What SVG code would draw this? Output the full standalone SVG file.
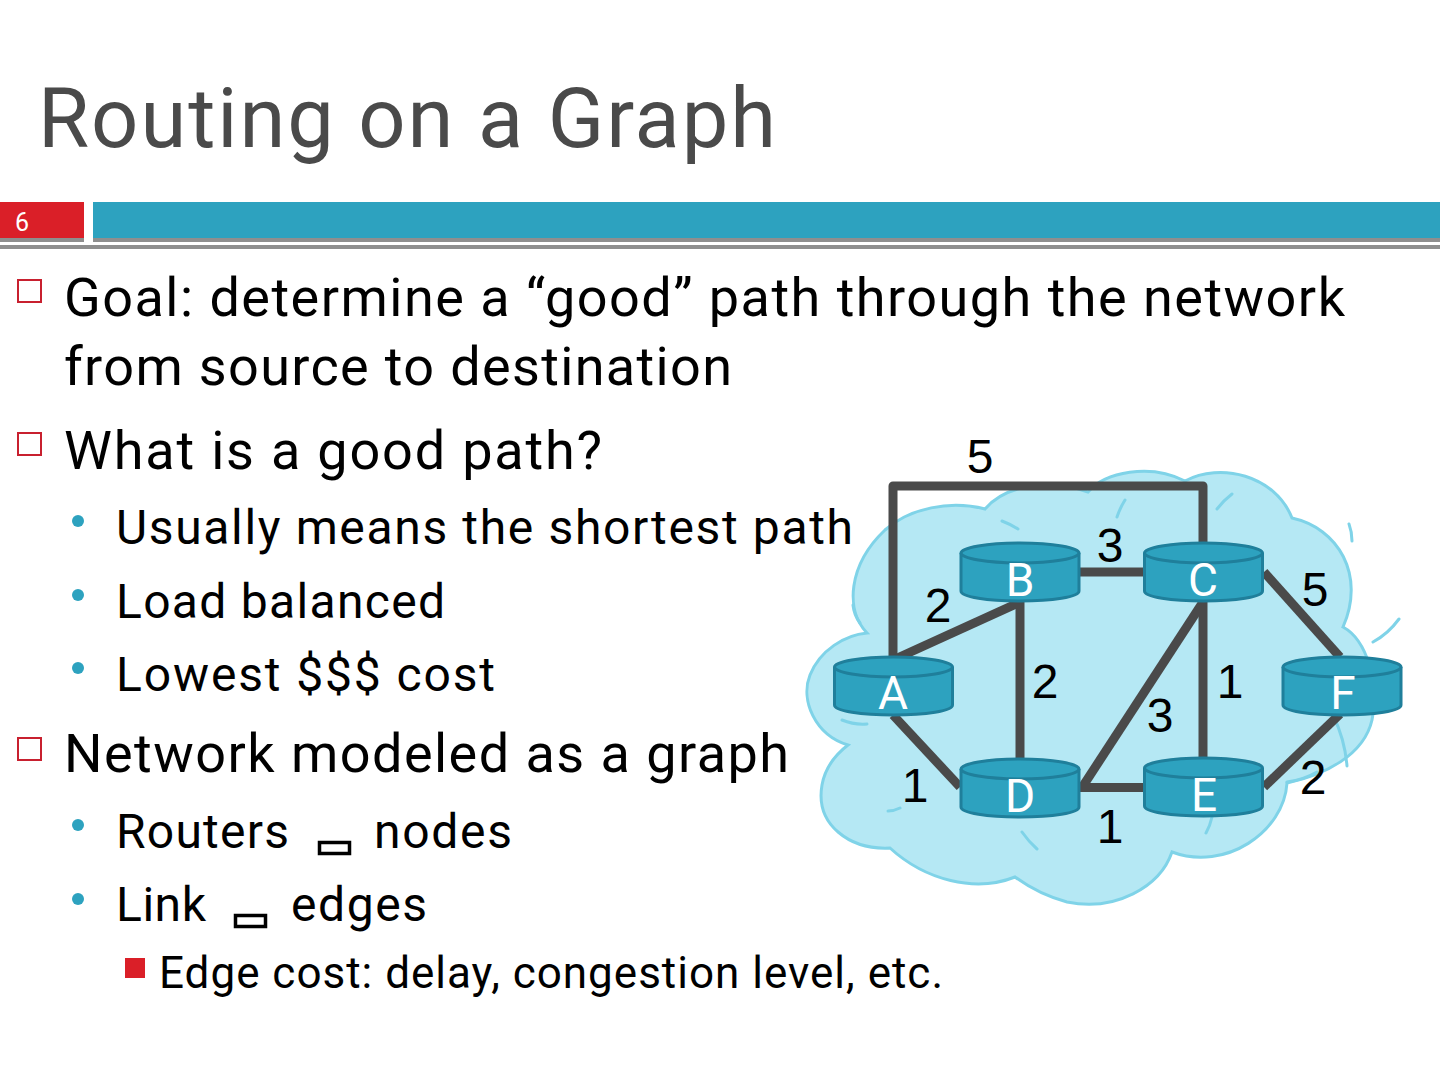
<svg xmlns="http://www.w3.org/2000/svg" width="1440" height="1080" viewBox="0 0 1440 1080">
<defs>
<style>
text{font-family:Roboto,"Liberation Sans",sans-serif;fill:#000}
.title{font-size:83px;fill:#4a4a4a}
.l1{font-size:54px}
.l2{font-size:48px}
.l3{font-size:44px}
.num{font-family:"Liberation Sans",Arial,sans-serif;font-size:48px;text-anchor:middle}
.lab{font-size:46px;fill:#fff;text-anchor:middle}
.edge{fill:none;stroke:#4a4a4a;stroke-width:9;stroke-linejoin:round}
.cyl{fill:#2da2bf;stroke:#1f7f9b;stroke-width:3}
.sq{fill:none;stroke:#c8202f;stroke-width:2}
.cl{fill:none;stroke:#7fd3e8;stroke-width:3;stroke-linecap:round}
.tofu{fill:none;stroke:#000;stroke-width:3.500}
.dot{fill:#2da2bf}
</style>
<g id="router">
<path class="cyl" d="M-59 -19V19C-59 25 -32 29 0 29S59 25 59 19V-19"/>
<ellipse class="cyl" cx="0" cy="-19" rx="59" ry="10"/>
</g>
</defs>
<rect width="1440" height="1080" fill="#fff"/>
<g id="header">
<rect x="0" y="202" width="84" height="36" fill="#da1f28"/>
<rect x="93" y="202" width="1347" height="36" fill="#2da2bf"/>
<rect x="0" y="238" width="84" height="4" fill="#8e8e8e"/>
<rect x="93" y="238" width="1347" height="4" fill="#8e8e8e"/>
<rect x="0" y="245" width="1440" height="4" fill="#8e8e8e"/>
<text x="22" y="231" text-anchor="middle" font-size="25" style="fill:#fff">6</text>
</g>
<text class="title" x="38" y="147" textLength="738">Routing on a Graph</text>
<g id="bullets">
<rect class="sq" x="18" y="280" width="23" height="22"/>
<rect class="sq" x="18" y="433" width="23" height="22"/>
<rect class="sq" x="18" y="738" width="23" height="22"/>
<circle class="dot" cx="78" cy="521" r="6"/>
<circle class="dot" cx="78" cy="595" r="6"/>
<circle class="dot" cx="78" cy="668" r="6"/>
<circle class="dot" cx="78" cy="825" r="6"/>
<circle class="dot" cx="78" cy="899" r="6"/>
<rect x="125" y="958" width="20" height="20" fill="#da1f28"/>
</g>
<g id="body">
<text class="l1" x="64" y="316" textLength="1281">Goal: determine a “good” path through the network</text>
<text class="l1" x="64" y="385" textLength="668">from source to destination</text>
<text class="l1" x="64" y="469" textLength="538">What is a good path?</text>
<text class="l2" x="116" y="544" textLength="737">Usually means the shortest path</text>
<text class="l2" x="116" y="618" textLength="329">Load balanced</text>
<text class="l2" x="116" y="691" textLength="379">Lowest $$$ cost</text>
<text class="l1" x="64" y="772" textLength="725">Network modeled as a graph</text>
<text class="l2" x="116" y="848" textLength="173">Routers</text>
<rect class="tofu" x="319.500" y="842.500" width="30" height="11"/>
<text class="l2" x="374" y="848" textLength="138">nodes</text>
<text class="l2" x="116" y="921" textLength="90">Link</text>
<rect class="tofu" x="235.500" y="915.500" width="30" height="11"/>
<text class="l2" x="291" y="921" textLength="136">edges</text>
<text class="l3" x="159" y="988" textLength="784">Edge cost: delay, congestion level, etc.</text>
</g>
<g id="cloud">
<path d="M867 633C845 610 848 565 885 530C910 508 950 500 985 509C1005 485 1050 478 1088 492C1105 472 1150 463 1185 481C1220 462 1275 475 1292 518C1338 528 1366 575 1343 627C1367 640 1380 685 1372 720C1364 755 1325 775 1287 783C1284 832 1225 872 1172 852C1160 887 1115 912 1067 902C1048 897 1030 888 1015 877C975 893 925 880 890 848C850 850 815 825 822 785C825 768 835 755 848 745C815 735 800 700 810 675C820 650 845 635 867 633Z" fill="#b5e8f4" stroke="#7fd3e8" stroke-width="3" stroke-linejoin="miter"/>
<path class="cl" d="M1002 521Q1010 524 1018 529M1117 517Q1120 508 1125 500M1217 509Q1224 500 1232 494M1349 524Q1352 532 1352 541M1373 642Q1388 634 1399 619M842 720Q854 725 867 724M888 811Q894 811 900 808M1022 832Q1029 842 1037 849M1212 817Q1210 826 1206 833M1333 715Q1345 740 1347 766M1287 782Q1303 780 1317 772M853 605Q854 615 860 623"/>
</g>
<g id="connectors">
<path class="edge" d="M893 660V486H1203V545"/>
<path class="edge" d="M893 660L1018 603"/>
<path class="edge" d="M1020 602V762"/>
<path class="edge" d="M1079 572H1144"/>
<path class="edge" d="M1203 602L1083 786"/>
<path class="edge" d="M1203 602V760"/>
<path class="edge" d="M1079 787.500H1144"/>
<path class="edge" d="M1264 572L1340 657"/>
<path class="edge" d="M1340 714L1264 787"/>
<path class="edge" d="M893 715L960 787"/>
</g>
<g id="node-A"><use href="#router" x="893.500" y="686"/><text class="lab" x="893" y="709">A</text></g>
<g id="node-B"><use href="#router" x="1020" y="572"/><text class="lab" x="1020" y="596">B</text></g>
<g id="node-C"><use href="#router" x="1203.500" y="572"/><text class="lab" x="1203" y="596">C</text></g>
<g id="node-D"><use href="#router" x="1020" y="788"/><text class="lab" x="1020" y="812">D</text></g>
<g id="node-E"><use href="#router" x="1203.500" y="787"/><text class="lab" x="1204" y="811">E</text></g>
<g id="node-F"><use href="#router" x="1342" y="686"/><text class="lab" x="1343" y="709">F</text></g>
<g id="edge-labels">
<text class="num" x="980" y="473">5</text>
<text class="num" x="1110" y="562">3</text>
<text class="num" x="938" y="622">2</text>
<text class="num" x="1315" y="606">5</text>
<text class="num" x="1045" y="698">2</text>
<text class="num" x="1230" y="698">1</text>
<text class="num" x="1160" y="732">3</text>
<text class="num" x="915" y="802">1</text>
<text class="num" x="1110" y="843">1</text>
<text class="num" x="1313" y="794">2</text>
</g>
</svg>
